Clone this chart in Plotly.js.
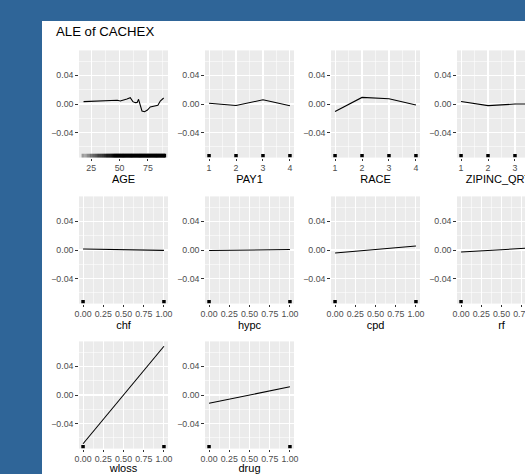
<!DOCTYPE html>
<html><head><meta charset="utf-8">
<script src="https://cdn.plot.ly/plotly-3.0.1.min.js"></script>
<style>
html,body{margin:0;padding:0;overflow:hidden;background:#2f6598;width:525px;height:474px;}
#wrap{position:absolute;left:42px;top:21px;width:483px;height:453px;background:#fff;overflow:hidden;}
#chart{position:absolute;left:0;top:0;width:560px;height:453px;}
</style></head><body>
<div id="wrap"><div id="chart"></div></div>
<script>
// ---- data ----
const chartTitle = "ALE of CACHEX";
const featureNames = ["AGE","PAY1","RACE","ZIPINC_QRTL","chf","hypc","cpd","rf","wloss","drug"];

const ageX = [18.3, 30, 43, 48, 50.6, 54, 56.5, 59.4, 61.7, 63.8, 65.5, 66.7, 68.2, 69.7, 72.0, 74.5, 77.0, 80, 82.0, 83.7, 85.8, 88.8];
const ageY = [0.0033, 0.0044, 0.0056, 0.0052, 0.0042, 0.0055, 0.007, 0.0088, 0.0033, 0.0019, 0.0022, 0.0065, -0.0037, -0.0098, -0.0107, -0.0085, -0.0042, -0.003, -0.0023, -0.0019, 0.0042, 0.0084];
const ageRug = [17,18,19,20,21,22,23,24,25,26,27,28,29,30,31,32,33,34,35,36,37,38,39,40,41,42,43,44,45,46,47,48,49,50,51,52,53,54,55,56,57,58,59,60,61,62,63,64,65,66,67,68,69,70,71,72,73,74,75,76,77,78,79,80,81,82,83,84,85,86,87,88,89,90];
const ageRugAlpha = [0.15,0.25,0.1,0.2,0.15,0.3,0.2,0.3,0.35,0.3,0.4,0.35,0.45,0.4,0.5,0.45,0.55,0.5,0.6,0.55,0.65,0.6,0.7,0.7,0.75,0.75,0.8,0.85,0.9,0.9,1,1,1,1,1,1,1,1,1,1,1,1,1,1,1,1,1,1,1,1,1,1,1,1,1,1,1,1,1,1,1,1,1,1,1,1,1,1,1,1,1,1,1,1];

const pay1X = [1, 2, 3, 4];
const pay1Y = [0.001, -0.002, 0.0058, -0.0025];
const raceX = [1, 2, 3, 4];
const raceY = [-0.0105, 0.0092, 0.0072, -0.0015];
const zipX = [1, 2, 3, 4];
const zipY = [0.0036, -0.0023, -0.0001, 0.0004];

const binX = [0, 1];
const chfY = [0.0015, -0.0005];
const hypcY = [-0.0007, 0.0006];
const cpdY = [-0.0043, 0.0057];
const rfY = [-0.0028, 0.0037];
const wlossY = [-0.068, 0.068];
const drugY = [-0.0115, 0.0115];

const yTicks = [-0.04, 0, 0.04];

// ---- layout geometry ----
const W = 560, H = 453;
const colLeft = [37, 163, 289, 415], panelW = 89;
const rowTop = [29.4, 175.4, 320.4], panelH = 107.2;
const yRange = [-0.0748, 0.0748];
const pxPerY = panelH / (yRange[1] - yRange[0]);

const panels = [
  {x: ageX, y: ageY, rug: ageRug, rugAlpha: ageRugAlpha, range: [14.3, 92.6], dtick: 25, minor: 12.5, fmt: 'd'},
  {x: pay1X, y: pay1Y, rug: pay1X, range: [0.85, 4.15], dtick: 1, minor: 0.5, fmt: 'd'},
  {x: raceX, y: raceY, rug: raceX, range: [0.85, 4.15], dtick: 1, minor: 0.5, fmt: 'd'},
  {x: zipX, y: zipY, rug: zipX, range: [0.85, 4.15], dtick: 1, minor: 0.5, fmt: 'd'},
  {x: binX, y: chfY, rug: binX, range: [-0.05, 1.05], dtick: 0.25, minor: 0.125, fmt: '.2f'},
  {x: binX, y: hypcY, rug: binX, range: [-0.05, 1.05], dtick: 0.25, minor: 0.125, fmt: '.2f'},
  {x: binX, y: cpdY, rug: binX, range: [-0.05, 1.05], dtick: 0.25, minor: 0.125, fmt: '.2f'},
  {x: binX, y: rfY, rug: binX, range: [-0.05, 1.05], dtick: 0.25, minor: 0.125, fmt: '.2f'},
  {x: binX, y: wlossY, rug: binX, range: [-0.05, 1.05], dtick: 0.25, minor: 0.125, fmt: '.2f'},
  {x: binX, y: drugY, rug: binX, range: [-0.05, 1.05], dtick: 0.25, minor: 0.125, fmt: '.2f'}
];

const traces = [];
const layout = {
  width: W, height: H,
  margin: {l: 0, r: 0, t: 0, b: 0},
  paper_bgcolor: '#ffffff',
  plot_bgcolor: '#EBEBEB',
  showlegend: false,
  font: {family: '"Liberation Sans", Arial, Helvetica, sans-serif', color: '#000'},
  annotations: [{
    text: chartTitle, xref: 'paper', yref: 'paper',
    x: 12 / W, y: 1 - 10.8 / H, xanchor: 'left', yanchor: 'middle',
    showarrow: false, font: {size: 13.2, color: '#000'}
  }]
};

panels.forEach((p, i) => {
  const r = Math.floor(i / 4), c = i % 4;
  const sfx = i === 0 ? '' : String(i + 1);
  const xa = 'x' + sfx, ya = 'y' + sfx;
  const x0 = colLeft[c] / W, x1 = (colLeft[c] + panelW) / W;
  const yTopF = 1 - rowTop[r] / H, yBotF = 1 - (rowTop[r] + panelH) / H;
  layout['xaxis' + sfx] = {
    domain: [x0, x1], anchor: ya, range: p.range,
    tick0: 0, dtick: p.dtick, tickformat: p.fmt,
    ticks: 'outside', ticklen: 2.75, tickwidth: 1, tickcolor: '#333333',
    ticklabelstandoff: -1,
    tickfont: {size: 8.8, color: '#4D4D4D'},
    showgrid: true, gridcolor: '#ffffff', gridwidth: 1.07,
    minor: {dtick: p.minor, tick0: 0, showgrid: true, gridcolor: '#ffffff', gridwidth: 0.53, ticks: ''},
    zeroline: false, showline: false, fixedrange: true,
    title: {text: featureNames[i], font: {size: 11, color: '#000'}, standoff: 0}
  };
  layout['yaxis' + sfx] = {
    domain: [yBotF, yTopF], anchor: xa, range: yRange,
    tickmode: 'array', tickvals: yTicks, ticktext: yTicks.map(v => (v < 0 ? '\u2212' : '') + Math.abs(v).toFixed(2)),
    ticks: 'outside', ticklen: 2.75, tickwidth: 1, tickcolor: '#333333',
    tickfont: {size: 8.8, color: '#4D4D4D'},
    showgrid: true, gridcolor: '#ffffff', gridwidth: 1.07,
    minor: {dtick: 0.02, tick0: 0, showgrid: true, gridcolor: '#ffffff', gridwidth: 0.53, ticks: ''},
    zeroline: false, showline: false, fixedrange: true
  };
  traces.push({
    type: 'scatter', mode: 'lines', x: p.x, y: p.y, xaxis: xa, yaxis: ya,
    line: {color: '#000', width: 1.07}, hoverinfo: 'skip'
  });
  if (p.rugAlpha) {
    traces.push({
      type: 'scatter', mode: 'markers', x: p.rug, y: p.rug.map(() => yRange[0] + 1.6 / pxPerY),
      xaxis: xa, yaxis: ya, hoverinfo: 'skip',
      marker: {symbol: 'line-ns', size: 3.2, line: {width: 2.2, color: p.rugAlpha.map(a => 'rgba(0,0,0,' + a + ')')}}
    });
  } else {
    traces.push({
      type: 'scatter', mode: 'markers', x: p.rug, y: p.rug.map(() => yRange[0] + 1.75 / pxPerY),
      xaxis: xa, yaxis: ya, hoverinfo: 'skip',
      marker: {symbol: 'square', size: 3.5, color: '#000', line: {width: 0}}
    });
  }
});

Plotly.newPlot('chart', traces, layout, {staticPlot: true, displayModeBar: false});
</script>
</body></html>
